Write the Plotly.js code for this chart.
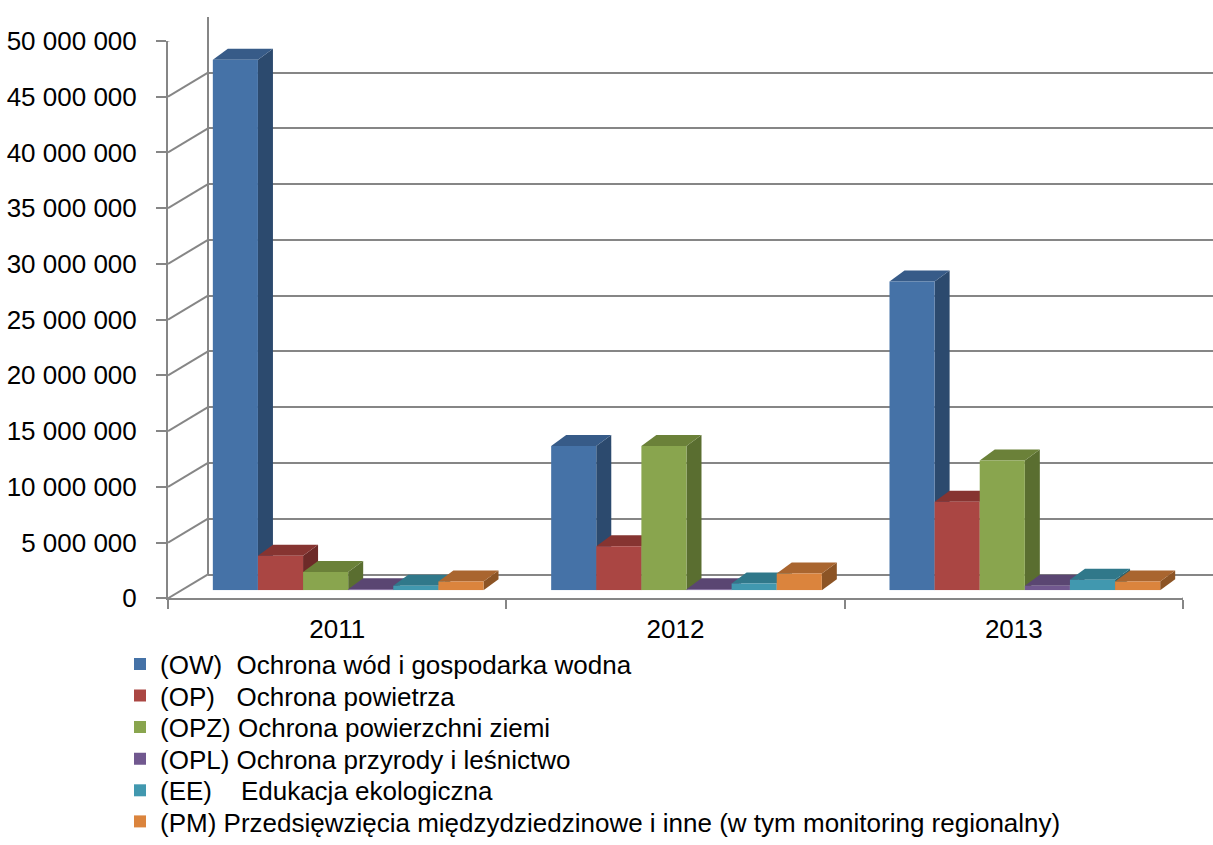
<!DOCTYPE html>
<html>
<head>
<meta charset="utf-8">
<script src="https://cdn.plot.ly/plotly-3.0.1.min.js"></script>
<style>html,body{margin:0;padding:0;background:#fff;}#chart{width:1213px;height:845px;}</style>
</head>
<body>
<div id="chart"></div>
<script>
// ---- data ----
const categories = ['2011', '2012', '2013'];
const seriesNames = [
  '(OW)\u00a0 Ochrona wód i gospodarka wodna',
  '(OP)\u00a0\u00a0 Ochrona powietrza',
  '(OPZ) Ochrona powierzchni ziemi',
  '(OPL) Ochrona przyrody i leśnictwo',
  '(EE)\u00a0\u00a0\u00a0 Edukacja ekologiczna',
  '(PM) Przedsięwzięcia międzydziedzinowe i inne (w tym monitoring regionalny)'
];
const OW  = [47600000, 12950000, 27700000];
const OP  = [3100000, 3950000, 7950000];
const OPZ = [1650000, 12950000, 11650000];
const OPL = [100000, 100000, 400000];
const EE  = [400000, 600000, 950000];
const PM  = [800000, 1500000, 800000];
const yTicks = [0, 5000000, 10000000, 15000000, 20000000, 25000000, 30000000, 35000000, 40000000, 45000000, 50000000];

const seriesValues = [OW, OP, OPZ, OPL, EE, PM];
const frontColors = ['#4572A7', '#AA4643', '#89A54E', '#71588F', '#4198AF', '#DB843D'];
const topColors   = ['#375b88', '#863431', '#6b8139', '#5a4672', '#30788a', '#a9652f'];
const sideColors  = ['#2c4a6e', '#6d2a28', '#5a6e30', '#4a3a5e', '#29636f', '#8c5425'];

// ---- geometry (pixels in the 1213x845 page) ----
const W = 1213, H = 845;
const front = {x0: 168, x1: 1183, y0: 599, y1: 41};
const back  = {x0: 208, x1: 1213, y0: 575, y1: 17};
const barShift = {x: 11, y: 8};
const depth = {x: 15, y: 11};
const bargap = 0.2;
const nSer = seriesValues.length;
const yMax = 50000000;
const legendRows = {first: 664, step: 31.6};

const fx = p => p / W;
const fy = p => 1 - p / H;

const plotPxW = front.x1 - front.x0;
const plotPxH = front.y0 - front.y1;
const catPx = plotPxW / categories.length;
const barData = (1 - bargap) / nSer;
const barPx = barData * catPx;
const dyData = depth.y * yMax / plotPxH;

const gridColor = '#868686';
const family = 'Liberation Sans, Arial, sans-serif';
const font = {family: family, size: 26, color: '#000'};
const legendFont = {family: family, size: 26, color: '#000'};

const legendIds = seriesValues.map((v, i) => i === 0 ? 'legend' : 'legend' + (i + 1));

const traces = seriesValues.map((vals, i) => ({
  type: 'bar',
  name: seriesNames[i],
  x: categories,
  y: vals,
  xaxis: 'x3', yaxis: 'y3',
  legend: legendIds[i],
  marker: {color: frontColors[i], line: {width: 0}},
  hoverinfo: 'x+y+name'
}));

const shapes = [];
yTicks.forEach(v => {
  shapes.push({
    type: 'line', xref: 'x2', yref: 'y2',
    xsizemode: 'pixel', xanchor: -0.5, x0: 0, x1: back.x0 - front.x0,
    ysizemode: 'pixel', yanchor: v, y0: 0, y1: front.y0 - back.y0,
    line: {color: gridColor, width: 2}, layer: 'below'
  });
});
shapes.push({
  type: 'line', xref: 'x2', yref: 'y2',
  xsizemode: 'pixel', xanchor: categories.length - 0.5, x0: 0, x1: back.x1 - front.x1,
  ysizemode: 'pixel', yanchor: 0, y0: 0, y1: front.y0 - back.y0,
  line: {color: gridColor, width: 2}, layer: 'below'
});
shapes.push({
  type: 'line', xref: 'paper', yref: 'paper',
  x0: fx(back.x0), x1: fx(back.x0), y0: fy(back.y0), y1: fy(back.y1),
  line: {color: gridColor, width: 2}, layer: 'below'
});

categories.forEach((c, ci) => {
  seriesValues.forEach((vals, si) => {
    const v = vals[ci];
    const xc = ci - (1 - bargap) / 2 + barData * (si + 0.5);
    const h = barPx / 2;
    const dx = depth.x;
    shapes.push({
      type: 'path', xref: 'x3', yref: 'y3', xsizemode: 'pixel', xanchor: xc,
      path: `M${h},0 L${h + dx},${dyData} L${h + dx},${v + dyData} L${h},${v} Z`,
      fillcolor: sideColors[si], line: {width: 0}, layer: 'below'
    });
    shapes.push({
      type: 'path', xref: 'x3', yref: 'y3', xsizemode: 'pixel', xanchor: xc,
      path: `M${-h},${v} L${h},${v} L${h + dx},${v + dyData} L${-h + dx},${v + dyData} Z`,
      fillcolor: topColors[si], line: {width: 0}, layer: 'below'
    });
  });
});

const layout = {
  width: W, height: H,
  margin: {l: 0, r: 0, t: 0, b: 0, pad: 0},
  paper_bgcolor: '#fff',
  plot_bgcolor: 'rgba(0,0,0,0)',
  separators: ', ',
  font: font,
  barmode: 'group', bargap: bargap, bargroupgap: 0,
  showlegend: true,
  xaxis: {
    domain: [fx(back.x0), fx(back.x1)], anchor: 'y',
    type: 'category', range: [-0.5, categories.length - 0.5],
    showgrid: false, showticklabels: false, ticks: '', zeroline: false,
    showline: true, linecolor: gridColor, linewidth: 2
  },
  yaxis: {
    domain: [fy(back.y0), fy(back.y1)], anchor: 'x',
    range: [0, yMax], tickvals: yTicks, showticklabels: false, ticks: '',
    showgrid: true, gridcolor: gridColor, gridwidth: 2, zeroline: false,
    showline: false
  },
  xaxis2: {
    domain: [fx(front.x0), fx(front.x1)], anchor: 'y2',
    type: 'category', range: [-0.5, categories.length - 0.5],
    categoryarray: categories, categoryorder: 'array',
    tickvals: categories, ticktext: categories,
    tickson: 'boundaries', ticks: 'outside', ticklen: 9, tickwidth: 2, tickcolor: gridColor,
    ticklabelstandoff: 7,
    showgrid: false, zeroline: false,
    showline: true, linecolor: gridColor, linewidth: 2,
    tickfont: font
  },
  yaxis2: {
    domain: [fy(front.y0), fy(front.y1)], anchor: 'x2',
    range: [0, yMax], tickvals: yTicks, tickformat: ',d',
    ticks: 'outside', ticklen: 10, tickwidth: 2, tickcolor: gridColor,
    ticklabelstandoff: 14,
    showgrid: false, zeroline: false,
    showline: true, linecolor: gridColor, linewidth: 2,
    tickfont: font
  },
  xaxis3: {
    domain: [fx(front.x0 + barShift.x), fx(front.x1 + barShift.x)], anchor: 'y3',
    type: 'category', range: [-0.5, categories.length - 0.5],
    visible: false, showgrid: false
  },
  yaxis3: {
    domain: [fy(front.y0 - barShift.y), fy(front.y1 - barShift.y)], anchor: 'x3',
    range: [0, yMax], visible: false, showgrid: false
  },
  shapes: shapes
};

legendIds.forEach((id, i) => {
  layout[id] = {
    x: 120 / W, y: fy(legendRows.first + legendRows.step * i),
    xanchor: 'left', yanchor: 'middle',
    font: legendFont, bgcolor: 'rgba(0,0,0,0)', borderwidth: 0, itemwidth: 30
  };
});

const wallTrace = {type: 'scatter', x: categories, y: [null, null, null], xaxis: 'x', yaxis: 'y', showlegend: false, hoverinfo: 'skip'};
const frontTrace = {type: 'scatter', x: categories, y: [null, null, null], xaxis: 'x2', yaxis: 'y2', showlegend: false, hoverinfo: 'skip'};

Plotly.newPlot('chart', [wallTrace, frontTrace].concat(traces), layout, {staticPlot: true, displayModeBar: false});
</script>
</body>
</html>
